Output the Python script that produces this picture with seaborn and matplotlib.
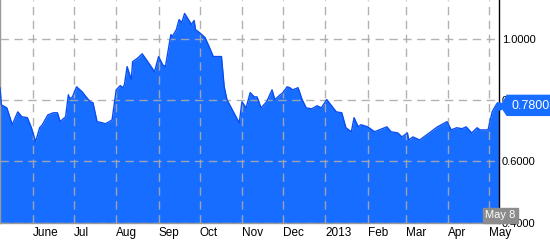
import matplotlib
matplotlib.use("Agg")
import matplotlib.pyplot as plt
from matplotlib.patches import Polygon
from matplotlib.transforms import IdentityTransform
import seaborn as sns
import pandas as pd

dates = ["2012-05-08", "2012-05-09", "2012-05-13", "2012-05-17", "2012-05-21", "2012-05-24",
         "2012-05-28", "2012-05-31", "2012-06-03", "2012-06-06", "2012-06-08", "2012-06-12",
         "2012-06-16", "2012-06-19", "2012-06-21", "2012-06-25", "2012-06-27", "2012-06-28",
         "2012-06-30", "2012-07-03", "2012-07-07", "2012-07-10", "2012-07-13", "2012-07-15",
         "2012-07-18", "2012-07-22", "2012-07-24", "2012-07-27", "2012-07-29", "2012-08-01",
         "2012-08-04", "2012-08-06", "2012-08-07", "2012-08-09", "2012-08-12", "2012-08-13",
         "2012-08-17", "2012-08-20", "2012-08-23", "2012-08-27", "2012-08-29", "2012-09-01",
         "2012-09-04", "2012-09-06", "2012-09-10", "2012-09-11", "2012-09-14", "2012-09-16",
         "2012-09-18", "2012-09-20", "2012-09-22", "2012-09-25", "2012-09-27", "2012-09-28",
         "2012-10-01", "2012-10-05", "2012-10-08", "2012-10-11", "2012-10-17", "2012-10-19",
         "2012-10-21", "2012-10-30", "2012-11-01", "2012-11-04", "2012-11-07", "2012-11-10",
         "2012-11-12", "2012-11-15", "2012-11-19", "2012-11-23", "2012-11-25", "2012-11-29",
         "2012-12-01", "2012-12-04", "2012-12-06", "2012-12-08", "2012-12-12", "2012-12-15",
         "2012-12-18", "2012-12-22", "2012-12-26", "2012-12-29", "2013-01-02", "2013-01-05",
         "2013-01-09", "2013-01-13", "2013-01-16", "2013-01-20", "2013-01-22", "2013-01-25",
         "2013-01-27", "2013-02-01", "2013-02-06", "2013-02-15", "2013-02-18", "2013-02-23",
         "2013-02-26", "2013-03-02", "2013-03-03", "2013-03-06", "2013-03-11", "2013-03-18",
         "2013-03-24", "2013-03-31", "2013-04-03", "2013-04-07", "2013-04-11", "2013-04-14",
         "2013-04-18", "2013-04-22", "2013-04-24", "2013-04-30", "2013-05-03", "2013-05-05",
         "2013-05-07", "2013-05-08"]
values = [0.841, 0.785, 0.775, 0.720, 0.762, 0.746,
          0.743, 0.710, 0.664, 0.710, 0.720, 0.752,
          0.759, 0.759, 0.730, 0.746, 0.818, 0.805,
          0.811, 0.844, 0.828, 0.811, 0.795, 0.792,
          0.730, 0.726, 0.723, 0.730, 0.736, 0.834,
          0.848, 0.841, 0.851, 0.910, 0.867, 0.926,
          0.939, 0.952, 0.933, 0.907, 0.893, 0.943,
          0.916, 0.910, 1.015, 1.008, 1.031, 1.064,
          1.054, 1.084, 1.070, 1.048, 1.061, 1.031,
          1.021, 1.005, 0.975, 0.943, 0.943, 0.844,
          0.802, 0.726, 0.795, 0.775, 0.825, 0.811,
          0.811, 0.775, 0.795, 0.834, 0.802, 0.818,
          0.825, 0.844, 0.841, 0.834, 0.841, 0.802,
          0.775, 0.772, 0.782, 0.775, 0.802, 0.785,
          0.762, 0.759, 0.710, 0.697, 0.743, 0.713,
          0.720, 0.713, 0.697, 0.713, 0.697, 0.693,
          0.680, 0.693, 0.670, 0.680, 0.670, 0.693,
          0.713, 0.730, 0.703, 0.710, 0.707, 0.713,
          0.693, 0.710, 0.703, 0.703, 0.762, 0.778,
          0.792, 0.780]

month_ticks = ["2012-06-01", "2012-07-01", "2012-08-01", "2012-09-01", "2012-10-01",
               "2012-11-01", "2012-12-01", "2013-01-01", "2013-02-01", "2013-03-01",
               "2013-04-01", "2013-05-01"]
month_labels = ["June", "Jul", "Aug", "Sep", "Oct", "Nov", "Dec", "2013", "Feb", "Mar", "Apr", "May"]
y_ticks = [0.4, 0.6, 0.8, 1.0]
y_labels = ["0.4000", "0.6000", "0.8000", "1.0000"]
last_label = "0.7800"
date_label = "May 8"

sns.set_theme(style="white")
plt.rcParams["font.family"] = ["Liberation Sans", "DejaVu Sans"]

df = pd.DataFrame({"date": pd.to_datetime(dates), "value": values})

fig = plt.figure(figsize=(5.5, 2.46), dpi=100)
ax = fig.add_axes([0.0, 0.0955, 499 / 550, 1 - 0.0955])

fill_c = "#166dff"
ax.fill_between(df["date"], 0.3, df["value"], color=fill_c, lw=0, zorder=2)
sns.lineplot(data=df, x="date", y="value", ax=ax, color="#0b4ef0", lw=1.0, zorder=3)
ax.plot(df["date"].iloc[-1:], df["value"].iloc[-1:], "o", color=fill_c, ms=5, zorder=4,
        clip_on=False)

ax.set_xlim(pd.Timestamp("2012-05-08"), pd.Timestamp("2013-05-08"))
ax.set_ylim(0.4, 1.128)

ax.set_xticks(pd.to_datetime(month_ticks))
ax.set_xticklabels(month_labels, ha="left", fontsize=8.5)
ax.set_yticks(y_ticks)
ax.set_yticklabels(y_labels, fontsize=8)
ax.yaxis.tick_right()
ax.tick_params(axis="x", length=0, pad=3, colors="#000000")
ax.tick_params(axis="y", length=0, pad=2, colors="#000000")
ax.set_xlabel("")
ax.set_ylabel("")

ax.grid(True, color="#aaaaaa", ls=(0, (6, 4)), lw=1.0, alpha=0.9, zorder=5)
ax.set_axisbelow(False)

ax.spines["top"].set_visible(False)
ax.spines["left"].set_color("#999999")
ax.spines["left"].set_linewidth(1)
ax.spines["bottom"].set_color("#999999")
ax.spines["bottom"].set_linewidth(1)
ax.spines["right"].set_color("#000000")
ax.spines["right"].set_linewidth(1)

# last-value tag (arrow-shaped box anchored at the right spine, at the last value)
axx, axy = ax.transAxes.transform((1.0, 0.0))[0], ax.transData.transform((0, values[-1]))[1]
W = fig.bbox.width
tag = Polygon([(axx + 2, axy), (axx + 8, axy + 11), (W + 2, axy + 11), (W + 2, axy - 9),
               (axx + 8, axy - 9)], closed=True, fc=fill_c, ec=fill_c,
              transform=IdentityTransform(), zorder=20)
fig.patches.append(tag)
fig.text(axx + 12, axy + 0.5, last_label, transform=IdentityTransform(), ha="left",
         va="center", fontsize=9, color="white", zorder=21)

# date tag
ax.annotate(date_label, xy=(1.0, 0.4), xycoords=("axes fraction", "data"),
            xytext=(1, 1.5), textcoords="offset points", ha="center", va="bottom",
            fontsize=8, color="white", zorder=10, annotation_clip=False,
            bbox=dict(boxstyle="square,pad=0.2", fc="#8c8c8c", ec="#8c8c8c"))

fig.savefig("out.png", dpi=100)
